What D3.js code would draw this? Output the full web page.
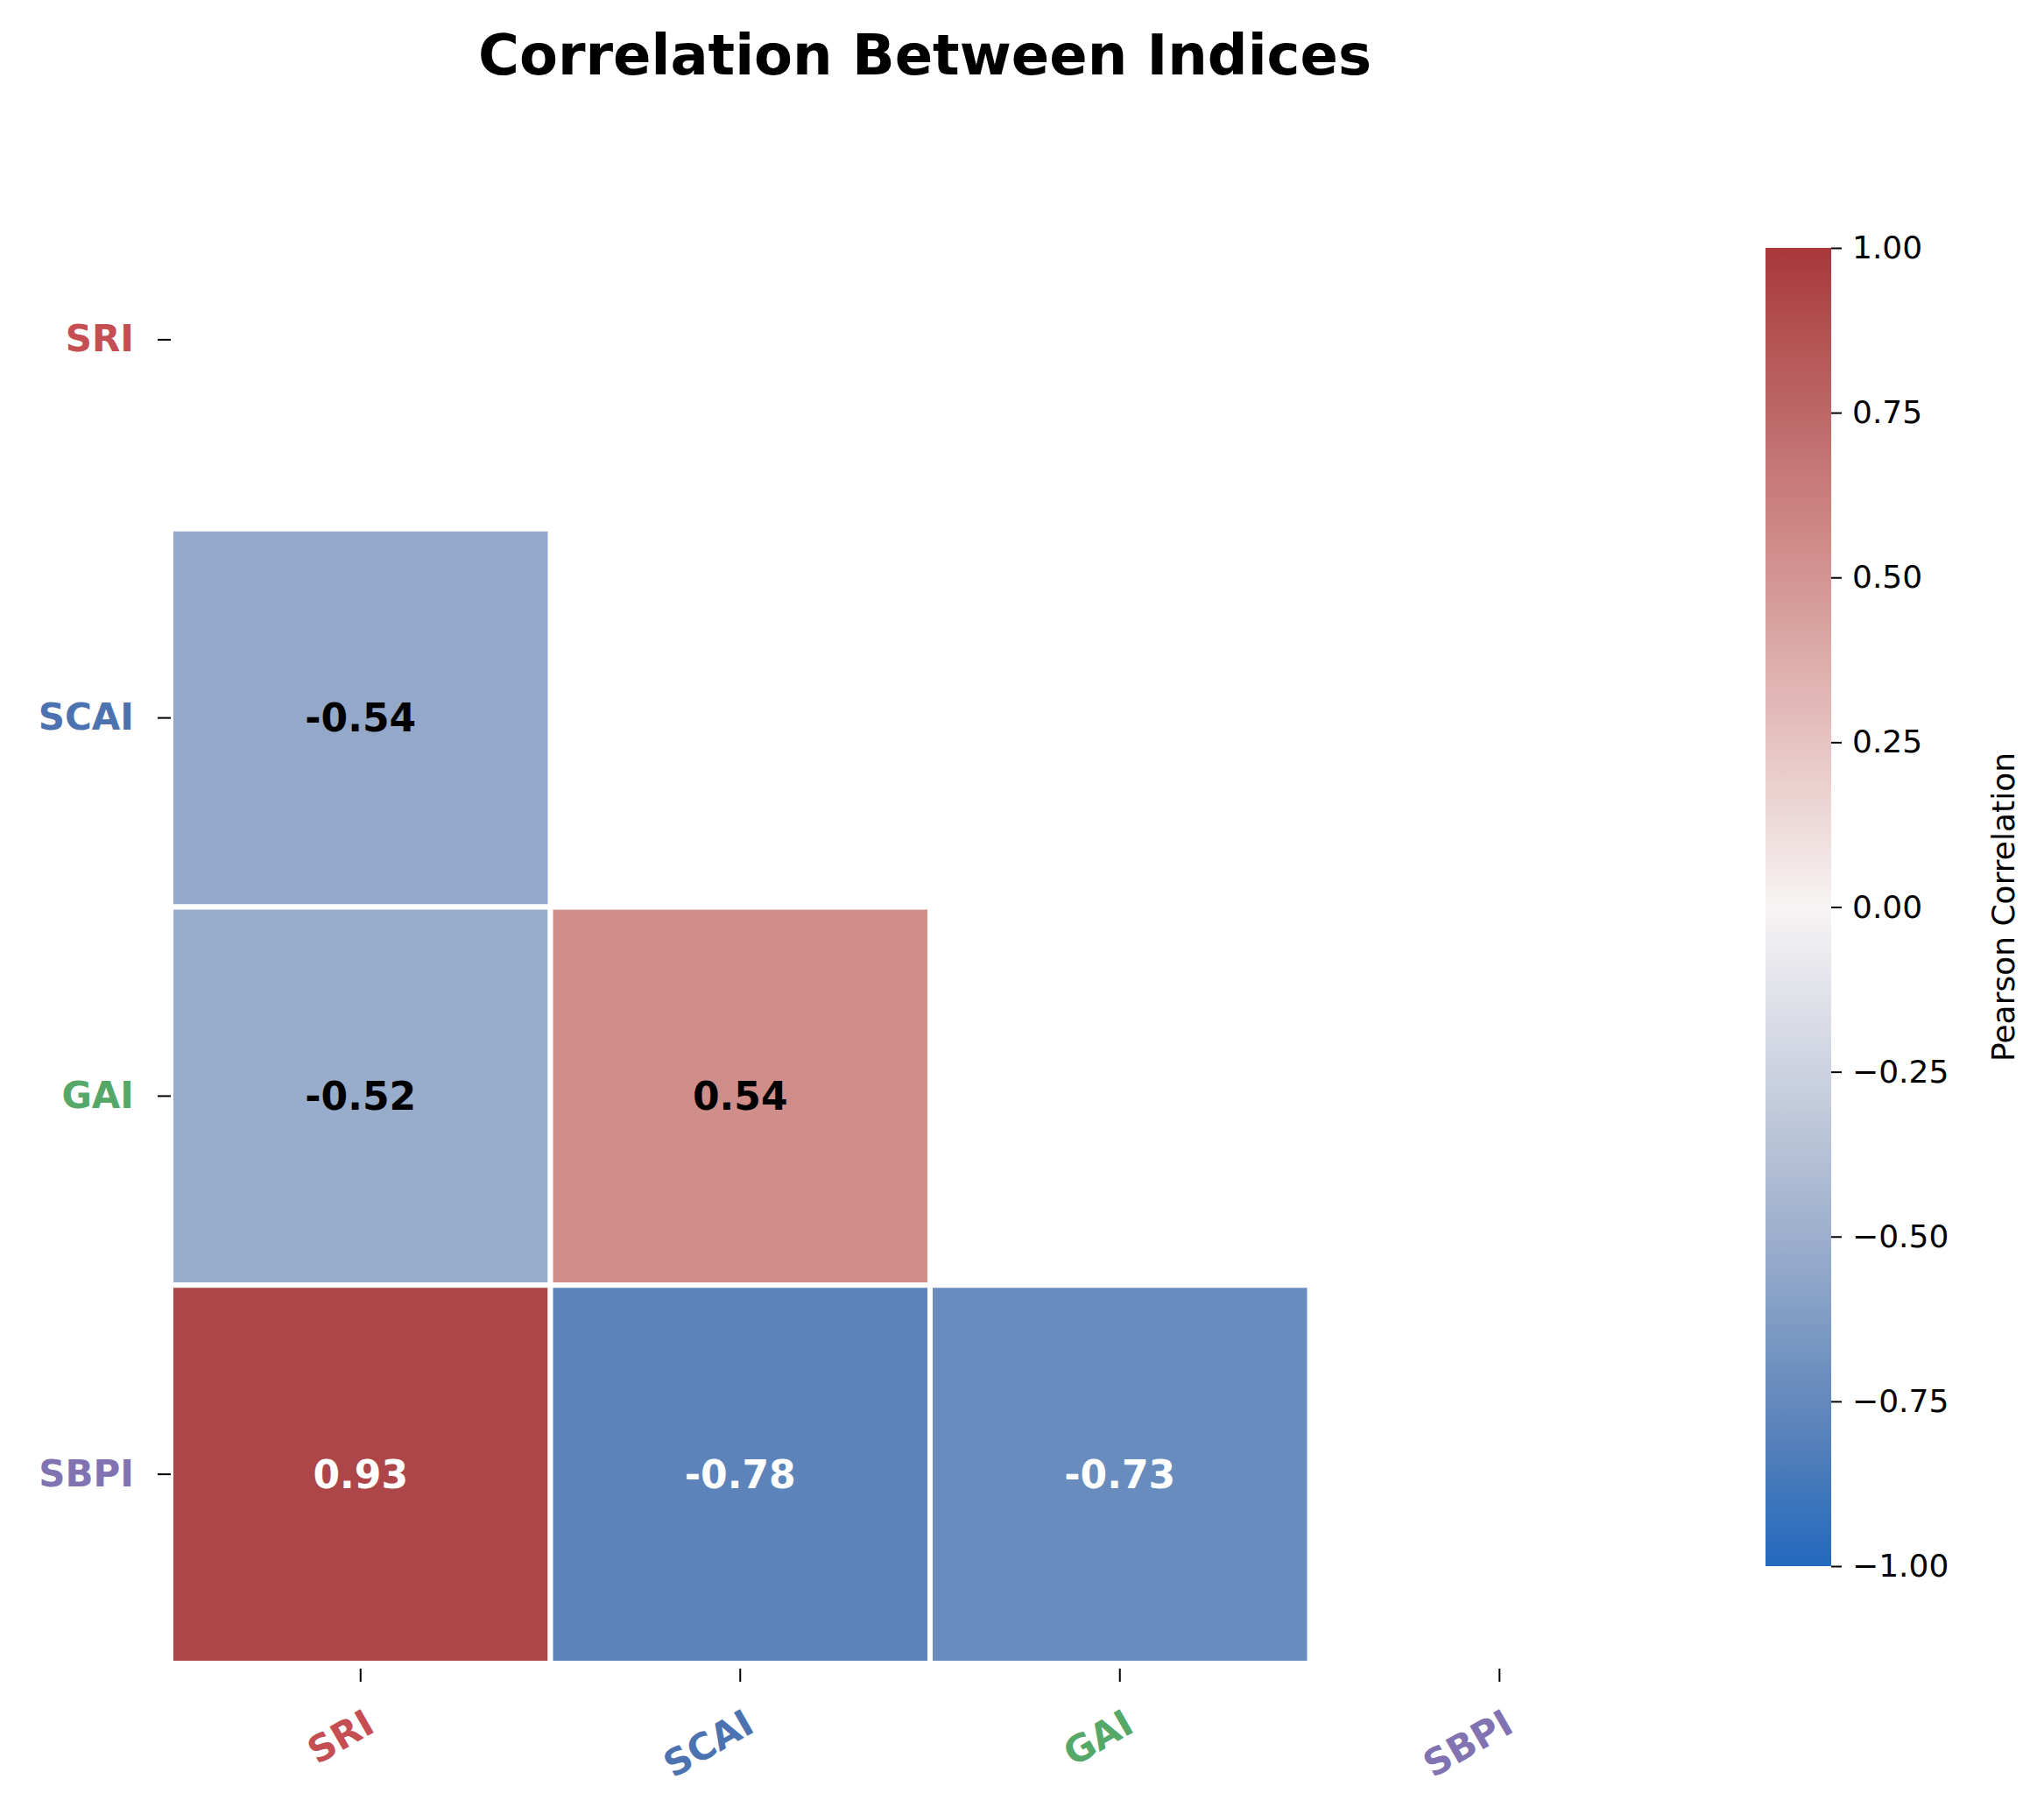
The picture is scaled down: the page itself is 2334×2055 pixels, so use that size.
<!DOCTYPE html>
<html><head><meta charset="utf-8">
<script src="https://cdn.jsdelivr.net/npm/d3@7"></script>
<style>body{margin:0;background:#fff;font-family:"DejaVu Sans",sans-serif;}</style>
</head><body><svg id="chart" width="2334" height="2055"></svg>
<script>
var names = ["SRI", "SCAI", "GAI", "SBPI"],
    labelColors = {SRI: "#c44e52", SCAI: "#4c72b0", GAI: "#55a868", SBPI: "#8172b2"},
    // lower triangle of the correlation matrix
    cells = [
        {row: "SCAI", col: "SRI", v: -0.54},
        {row: "GAI", col: "SRI", v: -0.52},
        {row: "GAI", col: "SCAI", v: 0.54},
        {row: "SBPI", col: "SRI", v: 0.93},
        {row: "SBPI", col: "SCAI", v: -0.78},
        {row: "SBPI", col: "GAI", v: -0.73}
    ];

var svg = d3.select("#chart");

var x = d3.scaleBand().domain(names).range([195, 1929]),
    y = d3.scaleBand().domain(names).range([172, 1899]);

var color = d3.scaleLinear()
    .domain([-1, -0.78, -0.53, -0.25, 0, 0.25, 0.54, 0.93, 1])
    .range(["#2369bd", "#5d84ba", "#96abca", "#cdd2e0", "#f7f4f4", "#e6c3c1", "#d08e8b", "#ad4648", "#a9373b"])
    .interpolate(d3.interpolateRgb);

svg.append("text").attr("x", 1056).attr("y", 85).attr("text-anchor", "middle")
    .style("font-size", "64px").style("font-weight", "bold").text("Correlation Between Indices");

var g = svg.append("g");
g.selectAll("rect").data(cells).enter().append("rect")
    .attr("x", function (d) { return x(d.col); })
    .attr("y", function (d) { return y(d.row); })
    .attr("width", x.bandwidth()).attr("height", y.bandwidth())
    .attr("fill", function (d) { return color(d.v); })
    .attr("stroke", "#fff").attr("stroke-width", 6);

g.selectAll("text.ann").data(cells).enter().append("text")
    .attr("x", function (d) { return x(d.col) + x.bandwidth() / 2; })
    .attr("y", function (d) { return y(d.row) + y.bandwidth() / 2; })
    .attr("dy", "0.35em").attr("text-anchor", "middle")
    .style("font-size", "44px").style("font-weight", "bold")
    .attr("fill", function (d) { return Math.abs(d.v) > 0.6 ? "#fff" : "#000"; })
    .text(function (d) { return d.v.toFixed(2); });

// axes
var yAx = svg.append("g").attr("transform", "translate(180,0)")
    .call(d3.axisLeft(y).tickSize(15).tickPadding(12));
var xAx = svg.append("g").attr("transform", "translate(0,1905)")
    .call(d3.axisBottom(x).tickSize(15).tickPadding(12));
[yAx, xAx].forEach(function (ax) {
    ax.select(".domain").remove();
    ax.selectAll(".tick line").attr("stroke", "#000").attr("stroke-width", 2);
    ax.selectAll(".tick text").style("font-size", "42px").style("font-weight", "bold")
        .style("font-family", "DejaVu Sans")
        .attr("fill", function (d) { return labelColors[d]; });
});
yAx.selectAll(".tick line").attr("transform", "translate(15,0)");
xAx.selectAll(".tick text").attr("text-anchor", "end")
    .attr("transform", "translate(-10,22) rotate(-30)").attr("dy", "0.7em");

// colorbar
var cbX = 2016, cbW = 75, cbTop = 283, cbBot = 1788;
var defs = svg.append("defs"),
    grad = defs.append("linearGradient").attr("id", "cb").attr("x1", 0).attr("y1", 1).attr("x2", 0).attr("y2", 0);
d3.range(0, 1.0001, 0.05).forEach(function (t) {
    grad.append("stop").attr("offset", t).attr("stop-color", color(-1 + 2 * t));
});
svg.append("rect").attr("x", cbX).attr("y", cbTop).attr("width", cbW).attr("height", cbBot - cbTop)
    .attr("fill", "url(#cb)");
var cbScale = d3.scaleLinear().domain([-1, 1]).range([cbBot, cbTop]);
var cbAx = svg.append("g").attr("transform", "translate(" + (cbX + cbW) + ",0)")
    .call(d3.axisRight(cbScale).tickValues(d3.range(-1, 1.01, 0.25)).tickSize(12).tickPadding(12)
        .tickFormat(function (d) { return d3.format(".2f")(d).replace("-", "\u2212"); }));
cbAx.select(".domain").remove();
cbAx.selectAll(".tick line").attr("stroke-width", 2);
cbAx.selectAll(".tick text").style("font-size", "36px").style("font-family", "DejaVu Sans");
svg.append("text").attr("transform", "translate(2300," + ((cbTop + cbBot) / 2) + ") rotate(-90)")
    .attr("text-anchor", "middle").style("font-size", "36px").text("Pearson Correlation");
</script></body></html>
